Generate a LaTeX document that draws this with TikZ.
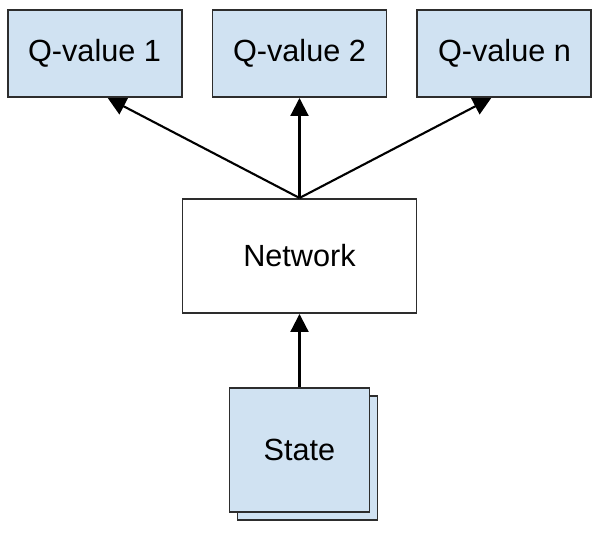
\documentclass[tikz,border=0pt]{standalone}
\usepackage{fontspec}
\setmainfont{Liberation Sans}
\usepackage{tikz}
\usepackage{xcolor}
\usetikzlibrary{arrows.meta, positioning, calc, backgrounds}
\definecolor{cFill}{RGB}{208,226,242}
\definecolor{cEdge}{RGB}{45,45,45}
\tikzset{
    qbox/.style   ={rectangle, minimum width=4.35cm, minimum height=2.175cm, text centered, draw=cEdge, line width=1.4pt, fill=cFill},
    netbox/.style ={rectangle, minimum width=5.85cm, minimum height=2.85cm, text centered, draw=cEdge, line width=1.4pt, fill=white},
    statebox/.style={rectangle, minimum width=3.5cm, minimum height=3.1cm, text centered, draw=cEdge, line width=1.4pt, fill=cFill},
    flowarrow/.style={-{Triangle[length=0.45cm, width=0.45cm]}, line width=1.5pt, draw=black},
}
\begin{document}
\begin{tikzpicture}[every node/.style={font=\fontsize{21.8}{26}\selectfont, text centered}]
        \useasboundingbox (0,0) rectangle (15,-13.325);
        \node[qbox] (q2) at (7.4875,-1.3375) {Q-value 2};
        \node[qbox, left=0.725cm of q2] (q1) {Q-value 1};
        \node[qbox, right=0.725cm of q2] (qn) {Q-value n};
        \node[netbox, below=2.5cm of q2] (net) {Network};
        \node[statebox, below=1.825cm of net] (state) {State};
        \begin{scope}[on background layer]
            \node[statebox] (stateback) at ([shift={(0.2,-0.2)}]state.center) {};
        \end{scope}
        \draw[flowarrow] (net.north) -- ([xshift=0.33cm]q1.south);
        \draw[flowarrow] (net.north) -- (q2.south);
        \draw[flowarrow] (net.north) -- ([xshift=-0.33cm]qn.south);
        \draw[flowarrow] (state.north) -- (net.south);
    \end{tikzpicture}
\end{document}
